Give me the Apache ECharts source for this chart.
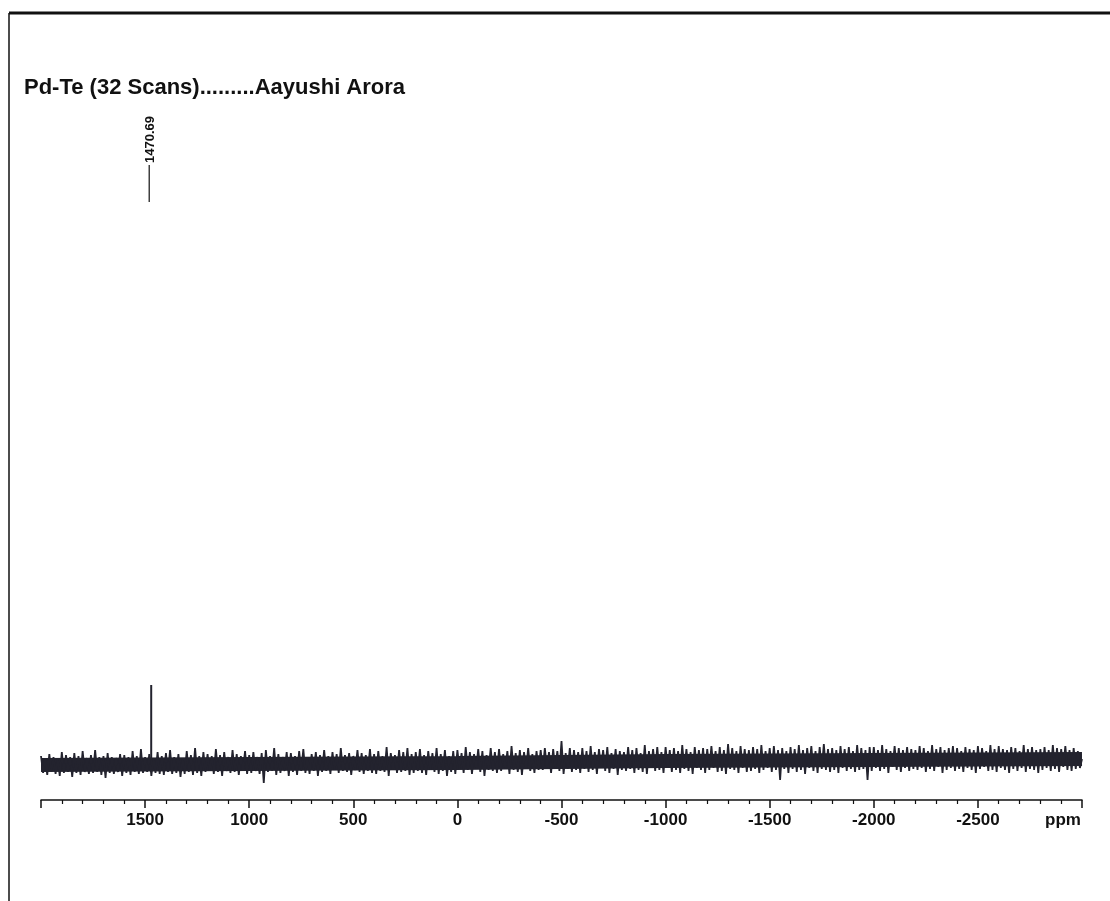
<!DOCTYPE html>
<html>
<head>
<meta charset="utf-8">
<script src="https://cdn.jsdelivr.net/npm/echarts@6/dist/echarts.min.js"></script>
<style>
  html, body { margin: 0; padding: 0; background: #fff; }
  #spec { width: 1110px; height: 901px; }
</style>
</head>
<body>
<div id="spec"></div>
<script>
// Pd-Te 125Te NMR spectrum, 32 scans
const chartTitle = 'Pd-Te (32 Scans).........Aayushi Arora'
const axisMin = -3000
const axisMax = 2000
const tickStep = 500

// baseline noise, one point every 10 ppm from 2000 down to -3000
const ppmStart = 2000
const ppmStep = -10
const noise = [
  7,-10, 5,-12, 9,-9, 6,-11, 5,-13, 11,-10, 8,-9, 6,-14, 10,-10, 7,-12,
  12,-9, 5,-11, 8,-10, 13,-9, 6,-12, 7,-15, 10,-10, 6,-11, 5,-9, 9,-13,
  8,-10, 6,-12, 12,-9, 7,-11, 14,-10, 6,-9, 9,-13, 5,-10, 11,-11, 7,-12,
  10,-9, 13,-11, 6,-10, 9,-14, 5,-11, 12,-9, 8,-12, 15,-10, 7,-13, 11,-9,
  9,-8, 7,-11, 14,-9, 8,-13, 11,-8, 6,-10, 13,-9, 9,-12, 7,-8, 12,-11,
  8,-10, 11,-8, 6,-11, 10,-20, 13,-9, 7,-8, 15,-12, 9,-10, 6,-8, 11,-13,
  10,-9, 7,-12, 12,-8, 14,-10, 6,-11, 9,-8, 11,-13, 8,-9, 13,-8, 7,-11,
  11,-7, 9,-10, 15,-8, 8,-9, 10,-12, 7,-7, 13,-9, 10,-11, 8,-8, 14,-10,
  9,-11, 12,-8, 7,-9, 16,-13, 10,-7, 8,-10, 13,-9, 11,-8, 15,-12, 9,-10,
  11,-8, 14,-10, 8,-12, 12,-7, 10,-9, 15,-11, 9,-8, 13,-13, 7,-9, 12,-11,
  13,-6, 10,-10, 16,-7, 11,-11, 9,-6, 14,-9, 12,-13, 8,-7, 15,-8, 11,-10,
  14,-8, 9,-6, 12,-11, 17,-7, 10,-9, 13,-12, 11,-6, 15,-8, 9,-10, 12,-7,
  13,-7, 15,-5, 11,-10, 14,-6, 12,-8, 22,-11, 10,-6, 15,-9, 13,-7, 11,-10,
  15,-6, 12,-9, 17,-7, 11,-11, 14,-5, 13,-8, 16,-10, 10,-6, 14,-12, 12,-7,
  11,-8, 16,-6, 13,-10, 15,-7, 10,-9, 18,-11, 12,-5, 14,-8, 16,-7, 11,-10,
  16,-5, 13,-9, 15,-7, 12,-10, 18,-6, 14,-8, 11,-11, 16,-5, 13,-7, 15,-10,
  14,-7, 17,-5, 12,-9, 16,-8, 13,-11, 19,-6, 15,-7, 12,-10, 17,-5, 14,-9,
  13,-8, 16,-6, 14,-10, 18,-7, 12,-5, 15,-9, 17,-7, 13,-17, 15,-6, 12,-10,
  16,-6, 14,-9, 18,-7, 13,-11, 15,-5, 17,-8, 12,-10, 16,-6, 19,-7, 14,-9,
  15,-7, 13,-10, 17,-5, 14,-8, 16,-6, 12,-9, 18,-7, 15,-6, 13,-17, 16,-8,
  16,-5, 13,-8, 18,-6, 14,-10, 12,-4, 17,-7, 15,-9, 13,-5, 16,-8, 14,-6,
  13,-7, 17,-5, 15,-9, 12,-6, 18,-8, 14,-4, 16,-10, 13,-7, 15,-5, 17,-8,
  15,-6, 12,-9, 16,-5, 14,-7, 13,-10, 17,-6, 15,-4, 12,-8, 18,-7, 14,-9,
  17,-5, 14,-7, 13,-10, 16,-6, 15,-8, 12,-5, 18,-9, 14,-6, 16,-7, 13,-10,
  14,-7, 16,-5, 13,-8, 18,-6, 15,-9, 14,-4, 17,-7, 13,-8, 15,-6, 12,-5,
  4
]

// drifting centre of the noise band (ppm, intensity)
const bandPpm = [2000, 1000, 0, -1000, -2000, -3000]
const bandMid = [-2, -1, 0, 2, 3, 4]

// the single signal
const peakPpm = 1470.69
const peakBase = -2
const peakTop = 78
const peakLabel = '1470.69'

const noiseData = noise.map((v, i) => [ppmStart + i * ppmStep, v])
const bandData = bandPpm.map((p, i) => [p, bandMid[i]])
const peakData = [[peakPpm, peakBase], [peakPpm, peakTop]]

const font = '"Liberation Sans", Arial, sans-serif'
const ink = '#23232e'

let spec = echarts.init(document.getElementById('spec'))

let option = {
  backgroundColor: '#fff',
  animation: false,
  title: {
    text: chartTitle,
    left: 19,
    top: 72,
    textStyle: { fontFamily: font, fontSize: 22, fontWeight: 'bold', color: '#111' }
  },
  grid: {
    left: 41, right: 28, top: 663, bottom: 101,
    containLabel: false,
    outerBoundsMode: 'none'
  },
  xAxis: {
    type: 'value',
    inverse: true,
    min: axisMin,
    max: axisMax,
    interval: tickStep,
    splitLine: { show: false },
    axisLine: { onZero: false, lineStyle: { color: '#111', width: 1.5 } },
    axisTick: { length: 8, lineStyle: { color: '#111', width: 1.5 } },
    minorTick: { show: true, splitNumber: 5, length: 4, lineStyle: { color: '#111', width: 1.2 } },
    minorSplitLine: { show: false },
    axisLabel: {
      margin: 12,
      showMinLabel: true,
      showMaxLabel: true,
      fontFamily: font,
      fontSize: 17,
      fontWeight: 'bold',
      color: '#111',
      formatter: function (v) {
        if (v === axisMax) return ''
        if (v === axisMin) return '{p|ppm}'
        return String(v)
      },
      rich: {
        p: { fontFamily: font, fontSize: 17, fontWeight: 'bold', color: '#111', padding: [0, 38, 0, 0] }
      }
    }
  },
  yAxis: {
    type: 'value',
    min: -37,
    max: 100,
    show: false,
    splitLine: { show: false }
  },
  series: [
    {
      name: 'band',
      type: 'line',
      data: bandData,
      showSymbol: false,
      symbol: 'none',
      lineStyle: { color: ink, width: 14, cap: 'butt' },
      z: 1
    },
    {
      name: 'noise',
      type: 'line',
      data: noiseData,
      showSymbol: false,
      symbol: 'none',
      lineStyle: { color: ink, width: 1.8 },
      z: 2
    },
    {
      name: 'peak',
      type: 'line',
      data: peakData,
      showSymbol: false,
      symbol: 'none',
      lineStyle: { color: ink, width: 2 },
      z: 3
    }
  ]
}

spec.setOption(option)

// peak pick label above the spectrum
const px = spec.convertToPixel({ gridIndex: 0 }, [peakPpm, 0])[0]
spec.setOption({
  graphic: [
    { type: 'line', shape: { x1: 9, y1: 13, x2: 1110, y2: 13 }, style: { stroke: '#111', lineWidth: 3 } },
    { type: 'line', shape: { x1: 9, y1: 13, x2: 9, y2: 901 }, style: { stroke: '#111', lineWidth: 1.5 } },
    { type: 'line', shape: { x1: px - 2, y1: 165, x2: px - 2, y2: 202 }, style: { stroke: '#111', lineWidth: 1.2 } },
    {
      type: 'text',
      x: px - 1,
      y: 163,
      rotation: Math.PI / 2,
      style: {
        text: peakLabel,
        font: 'bold 13px ' + font,
        fill: '#111',
        align: 'left',
        verticalAlign: 'middle'
      }
    }
  ]
})
</script>
</body>
</html>
